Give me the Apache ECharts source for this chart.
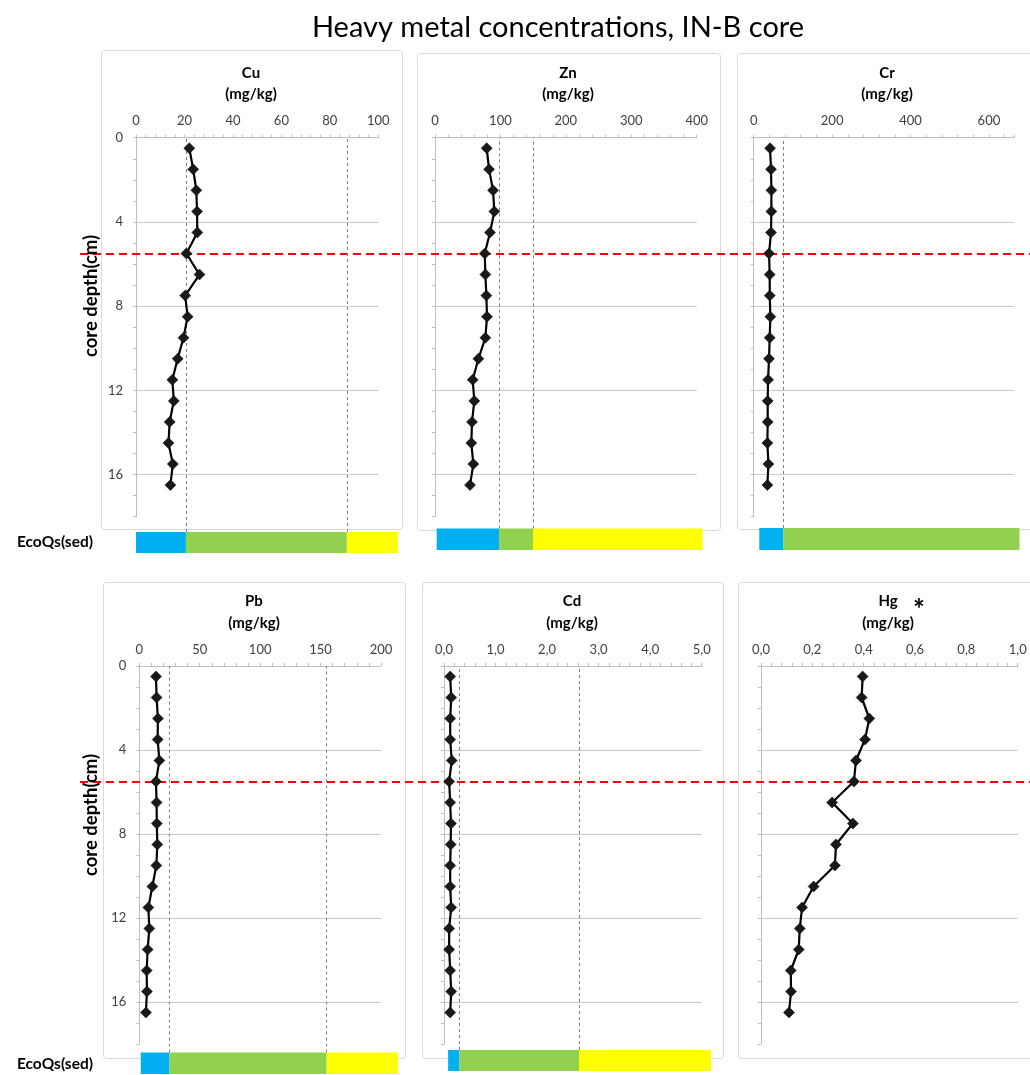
<!DOCTYPE html>
<html>
<head>
<meta charset="utf-8">
<script src="https://cdn.jsdelivr.net/npm/echarts@6/dist/echarts.min.js"></script>
<style>
  html, body { margin: 0; padding: 0; background: #ffffff; }
  #chart { width: 1030px; height: 1075px; }
</style>
</head>
<body>
<div id="chart"></div>
<script>
// Sampling depths (cm) of the IN-B core slices
const depth = [0.5, 1.5, 2.5, 3.5, 4.5, 5.5, 6.5, 7.5, 8.5, 9.5, 10.5, 11.5, 12.5, 13.5, 14.5, 15.5, 16.5];

// Concentrations per slice (mg/kg)
const cu = [22.0, 23.6, 24.9, 25.2, 25.3, 20.8, 26.2, 20.3, 21.3, 19.6, 17.2, 15.0, 15.6, 13.9, 13.4, 15.2, 14.2];
const zn = [79, 82.6, 88.7, 90.7, 84.1, 76, 77, 78.5, 79.5, 77, 66.3, 57.6, 60.1, 56.6, 55.5, 58.6, 53.5];
const cr = [41.7, 44.2, 45.1, 45.1, 44.2, 39.1, 40.8, 41.0, 42.5, 40.8, 39.1, 36.6, 35.7, 35.7, 34.9, 37.5, 34.9];
const pb = [13.8, 14.3, 15.4, 15.2, 16.6, 13.8, 14.3, 14.5, 14.9, 14.1, 10.8, 7.5, 8.3, 6.9, 6.1, 6.3, 5.5];
const cd = [0.12, 0.14, 0.12, 0.12, 0.15, 0.10, 0.12, 0.135, 0.13, 0.12, 0.12, 0.14, 0.10, 0.10, 0.12, 0.14, 0.12];
const hg = [0.396, 0.392, 0.422, 0.405, 0.370, 0.362, 0.277, 0.358, 0.292, 0.288, 0.205, 0.160, 0.151, 0.147, 0.116, 0.117, 0.109];

// EcoQs(sed) class boundaries (mg/kg)
const cuLimits = [20.6, 87];
const znLimits = [98, 150];
const crLimits = [76];
const pbLimits = [25, 155];
const cdLimits = [0.30, 2.62];
const hgLimits = [];

// Labelled ticks on each concentration axis
const cuTicks = [0, 20, 40, 60, 80, 100];
const znTicks = [0, 100, 200, 300, 400];
const crTicks = [0, 200, 400, 600];
const pbTicks = [0, 50, 100, 150, 200];
const cdTicks = [0, 1, 2, 3, 4, 5];
const hgTicks = [0, 0.2, 0.4, 0.6, 0.8, 1.0];
const depthTicks = [0, 4, 8, 12, 16];

// Boundary of the upper core section
const sectionDepth = 5.5;

const ecoColors = ['#00b0f0', '#92d050', '#ffff00'];
const FONT = 'Lato, "Open Sans", "DejaVu Sans", sans-serif';

const rows = [
  { top: 137.7, height: 379, titleY: [73, 94], depthLabelY: 296, ecoLabelY: 542 },
  { top: 666, height: 378, titleY: [601, 623], depthLabelY: 815, ecoLabelY: 1064 }
];

const panels = [
  { name: 'Cu', values: cu, limits: cuLimits, ticks: cuTicks, minor: 4, xMax: 100, decimal: false,
    row: 0, left: 136, width: 242.3, yLabels: true, eco: [0, 108], ecoTop: 532, ecoH: 21,
    frame: [101, 50, 301, 479], cx: 251 },
  { name: 'Zn', values: zn, limits: znLimits, ticks: znTicks, minor: 20, xMax: 400, decimal: false,
    row: 0, left: 435, width: 261.7, yLabels: false, eco: [2.6, 409], ecoTop: 528.5, ecoH: 21.5,
    frame: [417, 53, 303, 477], cx: 568 },
  { name: 'Cr', values: cr, limits: crLimits, ticks: crTicks, minor: 40, xMax: 665, decimal: false,
    row: 0, left: 753.7, width: 260.7, yLabels: false, eco: [14.3, 678], ecoTop: 528, ecoH: 22,
    frame: [737, 53, 300, 476], cx: 887 },
  { name: 'Pb', values: pb, limits: pbLimits, ticks: pbTicks, minor: 10, xMax: 200, decimal: false,
    row: 1, left: 139.3, width: 241.7, yLabels: true, eco: [1.2, 214], ecoTop: 1052.5, ecoH: 21.5,
    frame: [103, 582, 302, 476], cx: 254 },
  { name: 'Cd', values: cd, limits: cdLimits, ticks: cdTicks, minor: 0.2, xMax: 5, decimal: true,
    row: 1, left: 444, width: 257.7, yLabels: false, eco: [0.08, 5.18], ecoTop: 1050, ecoH: 21,
    frame: [422, 582, 301, 476], cx: 572 },
  { name: 'Hg', values: hg, limits: hgLimits, ticks: hgTicks, minor: 0.04, xMax: 1, decimal: true,
    row: 1, left: 761, width: 256.7, yLabels: false, eco: null,
    frame: [738, 582, 300, 476], cx: 888, star: true }
];

function isTick(v, list) {
  return list.some(t => Math.abs(t - v) < 1e-6);
}
function fmt(v, decimal) {
  return decimal ? v.toFixed(1).replace('.', ',') : String(Math.round(v));
}

const grid = [], xAxis = [], yAxis = [], series = [], graphic = [];

function addGrid(g) {
  grid.push(Object.assign({ outerBoundsMode: 'none', containLabel: false }, g));
  return grid.length - 1;
}

// Full-width red dashed line marking the section boundary in each row
rows.forEach(row => {
  const gi = addGrid({ left: 80, top: row.top, width: 950, height: row.height });
  xAxis.push({ gridIndex: gi, type: 'value', min: 0, max: 1, show: false });
  yAxis.push({ gridIndex: gi, type: 'value', inverse: true, min: 0, max: 18, show: false });
  series.push({
    type: 'line', xAxisIndex: xAxis.length - 1, yAxisIndex: yAxis.length - 1, data: [], z: 3,
    markLine: {
      silent: true, symbol: 'none', label: { show: false },
      lineStyle: { color: '#ff0000', width: 2, type: [8, 5] },
      data: [{ yAxis: sectionDepth }]
    }
  });
});

panels.forEach(p => {
  const row = rows[p.row];
  const scale = p.width / p.xMax;

  // Chart-area frame
  graphic.push({
    type: 'rect', z: -10, silent: true,
    shape: { x: p.frame[0] + 0.5, y: p.frame[1] + 0.5, width: p.frame[2], height: p.frame[3], r: 3 },
    style: { fill: 'none', stroke: '#d9d9d9', lineWidth: 1 }
  });

  // Profile plot
  const gi = addGrid({ left: p.left, top: row.top, width: p.width, height: row.height });
  xAxis.push({
    gridIndex: gi, type: 'value', position: 'top', min: 0, max: p.xMax, interval: p.minor,
    axisLine: { show: true, lineStyle: { color: '#bfbfbf', width: 1 } },
    axisTick: { show: true, length: 3, lineStyle: { color: '#bfbfbf' } },
    axisLabel: {
      margin: 10, color: '#404040', fontSize: 13, fontFamily: FONT,
      showMinLabel: true, showMaxLabel: true,
      formatter: v => isTick(v, p.ticks) ? fmt(v, p.decimal) : ''
    },
    splitLine: { show: false }
  });
  yAxis.push({
    gridIndex: gi, type: 'value', inverse: true, min: 0, max: 18, interval: 1,
    axisLine: { show: true, lineStyle: { color: '#bfbfbf', width: 1 } },
    axisTick: { show: true, length: 3, lineStyle: { color: '#bfbfbf' } },
    axisLabel: {
      show: p.yLabels, margin: 13, color: '#404040', fontSize: 13, fontFamily: FONT,
      formatter: v => isTick(v, depthTicks) ? String(v) : ''
    },
    splitLine: {
      show: true,
      lineStyle: { color: ['#c8c8c8', 'rgba(0,0,0,0)', 'rgba(0,0,0,0)', 'rgba(0,0,0,0)'], width: 1 }
    }
  });
  series.push({
    name: p.name, type: 'line', xAxisIndex: xAxis.length - 1, yAxisIndex: yAxis.length - 1,
    data: depth.map((d, i) => [p.values[i], d]),
    symbol: 'diamond', symbolSize: 11,
    itemStyle: { color: '#1a1a14', borderColor: '#000', borderWidth: 0.5 },
    lineStyle: { color: '#000', width: 2.2 },
    z: 5, silent: true, animation: false
  });

  if (p.eco) {
    // Dashed class-boundary lines from the axis down to the EcoQs bar
    const gl = addGrid({ left: p.left, top: row.top, width: p.width, height: p.ecoTop - row.top });
    xAxis.push({ gridIndex: gl, type: 'value', min: 0, max: p.xMax, show: false });
    yAxis.push({ gridIndex: gl, type: 'value', min: 0, max: 1, show: false });
    series.push({
      type: 'line', xAxisIndex: xAxis.length - 1, yAxisIndex: yAxis.length - 1, data: [], z: 2,
      markLine: {
        silent: true, symbol: 'none', label: { show: false },
        lineStyle: { color: '#7f7f7f', width: 1, type: [3, 3] },
        data: p.limits.map(v => ({ xAxis: v }))
      }
    });

    // EcoQs(sed) class bar on the same concentration scale
    const gb = addGrid({
      left: p.left + p.eco[0] * scale, top: p.ecoTop,
      width: (p.eco[1] - p.eco[0]) * scale, height: p.ecoH
    });
    xAxis.push({ gridIndex: gb, type: 'value', min: p.eco[0], max: p.eco[1], show: false });
    yAxis.push({ gridIndex: gb, type: 'category', data: ['EcoQs'], show: false });
    const bounds = [0].concat(p.limits, [p.eco[1]]);
    for (let k = 0; k < bounds.length - 1; k++) {
      series.push({
        type: 'bar', stack: 'eco' + p.name, xAxisIndex: xAxis.length - 1, yAxisIndex: yAxis.length - 1,
        data: [bounds[k + 1] - bounds[k]], barWidth: '100%', clip: true,
        itemStyle: { color: ecoColors[k] }, silent: true, animation: false, z: 4
      });
    }
  }

  // Element name and unit
  graphic.push({
    type: 'text', silent: true, z: 10,
    x: p.cx, y: row.titleY[0],
    style: { text: p.name, font: 'bold 15px ' + FONT, fill: '#000', align: 'center', verticalAlign: 'middle' }
  });
  graphic.push({
    type: 'text', silent: true, z: 10,
    x: p.cx, y: row.titleY[1],
    style: { text: '(mg/kg)', font: 'bold 15px ' + FONT, fill: '#000', align: 'center', verticalAlign: 'middle' }
  });
  if (p.star) {
    graphic.push({
      type: 'text', silent: true, z: 10,
      x: p.cx + 31, y: row.titleY[0] + 9,
      style: { text: '*', font: 'bold 28px ' + FONT, fill: '#000', align: 'center', verticalAlign: 'middle' }
    });
  }
});

// Row labels
rows.forEach(row => {
  graphic.push({
    type: 'text', silent: true, z: 10, x: 91, y: row.depthLabelY, rotation: Math.PI / 2,
    style: { text: 'core depth(cm)', font: 'bold 18.5px ' + FONT, fill: '#000', align: 'center', verticalAlign: 'middle' }
  });
  graphic.push({
    type: 'text', silent: true, z: 10, x: 93, y: row.ecoLabelY,
    style: { text: 'EcoQs(sed)', font: 'bold 15.5px ' + FONT, fill: '#000', align: 'right', verticalAlign: 'middle' }
  });
});

// Main title
graphic.push({
  type: 'text', silent: true, z: 10, x: 558, y: 28,
  style: { text: 'Heavy metal concentrations, IN-B core', font: '29px ' + FONT, fill: '#000', align: 'center', verticalAlign: 'middle' }
});

const chart = echarts.init(document.getElementById('chart'), null, { renderer: 'canvas' });
chart.setOption({
  backgroundColor: '#ffffff',
  animation: false,
  grid: grid,
  xAxis: xAxis,
  yAxis: yAxis,
  series: series,
  graphic: { elements: graphic }
});
</script>
</body>
</html>
